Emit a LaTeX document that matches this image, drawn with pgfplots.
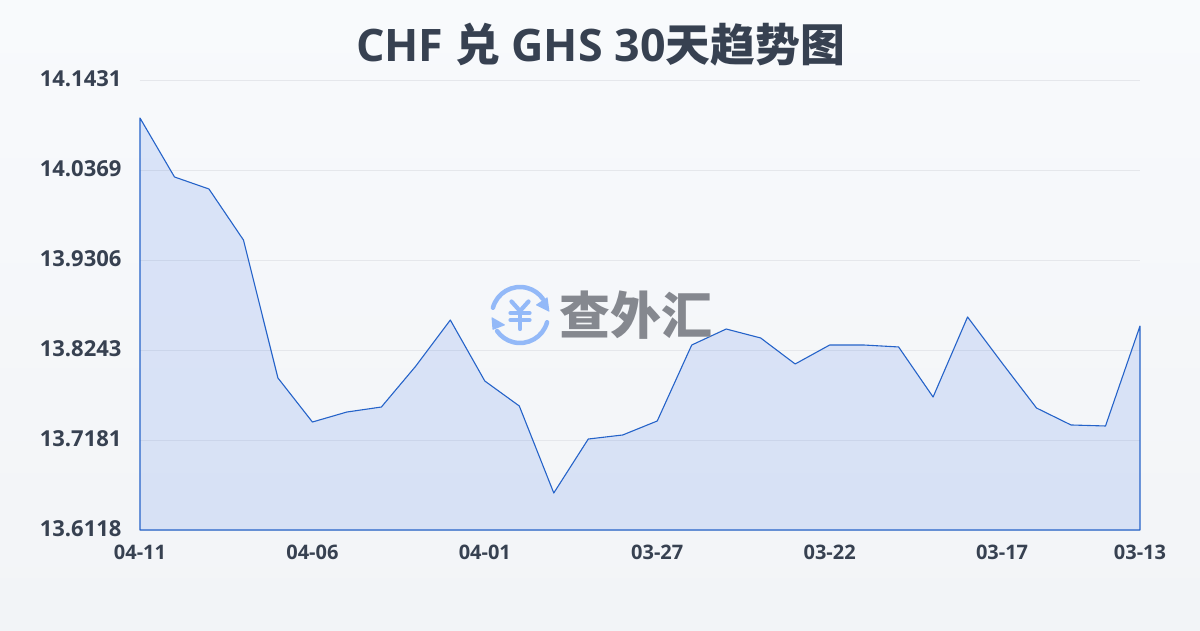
\documentclass[border=0pt]{standalone}
\usepackage{fontspec}
\usepackage{pgfplots}
\pgfplotsset{compat=1.18}
\usepackage{pgfplotstable}
\setmainfont{Open Sans}
\newfontfamily\cjk{Noto Sans CJK SC}
\definecolor{bgtop}{HTML}{F8FAFC}
\definecolor{bgbot}{HTML}{F2F4F7}
\definecolor{ink}{HTML}{374151}
\definecolor{gridc}{HTML}{E5E7EB}
\definecolor{linec}{HTML}{2563C9}
\definecolor{fillc}{HTML}{3A70E8}
\definecolor{logoblue}{HTML}{93B9F8}
\definecolor{logogray}{HTML}{85888F}
\pgfplotstableread{
i v
0 14.0982
1 14.0286
2 14.0144
3 13.9542
4 13.7913
5 13.7393
6 13.7511
7 13.7570
8 13.8054
9 13.8597
10 13.7877
11 13.7582
12 13.6555
13 13.7192
14 13.7240
15 13.7405
16 13.8302
17 13.8491
18 13.8385
19 13.8078
20 13.8302
21 13.8302
22 13.8279
23 13.7688
24 13.8633
25 13.8090
26 13.7558
27 13.7358
28 13.7346
29 13.8526
}\rates
\begin{document}
\begin{tikzpicture}[x=1pt,y=1pt]
\shade[top color=bgtop,bottom color=bgbot] (0,0) rectangle (1200,630);
\begin{axis}[
  at={(140pt,100pt)},anchor=south west,
  scale only axis,width=1000pt,height=450pt,
  xmin=0,xmax=29,ymin=13.6118,ymax=14.1431,
  axis line style={draw=none},
  xtick={0,5,10,15,20,25,29},
  xticklabels={04-11,04-06,04-01,03-27,03-22,03-17,03-13},
  ytick={13.6118,13.7181,13.8243,13.9306,14.0369,14.1431},
  yticklabels={13.6118,13.7181,13.8243,13.9306,14.0369,14.1431\hspace{-2pt}},
  tick style={draw=none},
  ymajorgrids,
  grid style={draw=gridc,line width=0.8pt},
  xticklabel style={font=\fontsize{20}{22}\selectfont\bfseries,text=ink,yshift=-11pt},
  yticklabel style={font=\fontsize{22}{24}\selectfont\bfseries,text=ink,anchor=east,xshift=-15pt,yshift=1pt},
  clip=false,
]
\addplot[draw=none,fill=fillc,fill opacity=0.15] table[x=i,y=v]{\rates} \closedcycle;
\addplot[draw=linec,line width=1.1pt,line join=round] table[x=i,y=v]{\rates} \closedcycle;
\end{axis}
\node[anchor=center,text=ink,font=\fontsize{44.8}{50}\selectfont\bfseries] at (600.5,585) {CHF {\cjk 兑} GHS 30{\cjk 天趋势图}};
% watermark
\begin{scope}[shift={(520,315)}]
\draw[logoblue,line width=4.5pt,line cap=round] (165:28) arc (165:35:28);
\draw[logoblue,line width=4.5pt,line cap=round] (-15:28) arc (-15:-145:28);
\fill[logoblue,rounded corners=0.6pt] (27.5,18) -- (29.5,3) -- (15.5,10) -- cycle;
\fill[logoblue,rounded corners=0.6pt] (-28.5,-2) -- (-27.5,-15) -- (-14.5,-10) -- cycle;
\draw[logoblue,line width=4.2pt,line cap=round,line join=round] (-8.5,13.5) -- (0,4) -- (8.5,13.5);
\draw[logoblue,line width=4.2pt,line cap=round] (0,4) -- (0,-14);
\draw[logoblue,line width=4.2pt,line cap=round] (-9.5,2) -- (9.5,2);
\draw[logoblue,line width=4.2pt,line cap=round] (-9.5,-5) -- (9.5,-5);
\end{scope}
\node[anchor=center,text=logogray,font=\fontsize{51}{56}\selectfont\cjk\bfseries] at (636,315) {查外汇};
\end{tikzpicture}
\end{document}
